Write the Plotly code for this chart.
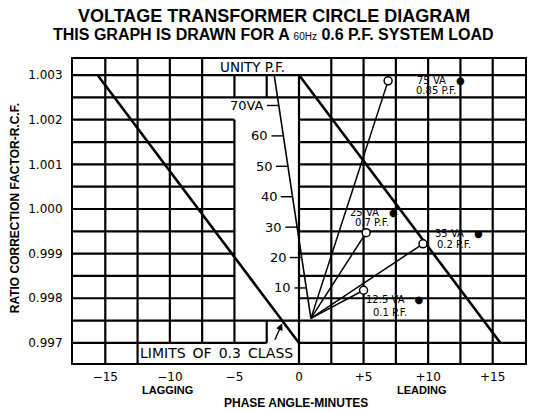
import plotly.graph_objects as go

# ---------------- data ----------------
x_tick_vals = [-15, -10, -5, 0, 5, 10, 15]
x_tick_text = ["−15", "−10", "−5", "0", "+5", "+10", "+15"]
y_tick_vals = [0.997, 0.998, 0.999, 1.000, 1.001, 1.002, 1.003]
y_tick_text = ["0.997", "0.998", "0.999", "1.000", "1.001", "1.002", "1.003"]

# 0.3 accuracy class limit lines (phase angle, RCF)
lag_limit_pa = [-15.6, 0.0]
lag_limit_rcf = [1.003, 0.997]
lead_limit_pa = [0.0, 15.6]
lead_limit_rcf = [1.003, 0.997]

# zero-burden point and unity power factor line
zero_pa, zero_rcf = 0.92, 0.99755
unity_end_pa, unity_end_rcf, unity_end_va = -1.92, 1.003, 80
va_ticks = [10, 20, 30, 40, 50, 60, 70]
va_tick_text = ["10", "20", "30", "40", "50", "60", "70VA"]

# burden points
burden_va = ["75", "25", "35", "12.5"]
burden_pf = ["0.85", "0.7", "0.2", "0.1"]
burden_pa = [6.9, 5.2, 9.6, 5.0]
burden_rcf = [1.00287, 0.99947, 0.99922, 0.99818]

# grid
grid_x = [-15 + 2.5 * i for i in range(13)]
grid_y = [round(0.997 + 0.0005 * i, 4) for i in range(13)]
X0, X1 = -17.5, 17.5
Y0, Y1 = 0.99655, 1.00336

# ---------------- figure ----------------
fig = go.Figure()

gx, gy = [], []
def seg(xa, ya, xb, yb):
    gx.extend([xa, xb, None]); gy.extend([ya, yb, None])

for x in grid_x:
    lo, hi = Y0, Y1
    if -12.5 < x < 0:
        lo = 0.997
    if -7.5 < x < 2.5:
        hi = 1.003
    if x == -2.5:
        seg(x, lo, x, 0.9975); seg(x, 1.0025, x, hi)
    elif x == -5:
        seg(x, lo, x, 1.002); seg(x, 1.0025, x, hi)
    else:
        seg(x, lo, x, hi)
for y in grid_y:
    if y == 0.997:
        seg(X0, y, -2.5, y); seg(0, y, X1, y)
    elif 0.9975 < y < 1.0025:
        seg(X0, y, -5, y); seg(0, y, X1, y)
    else:
        seg(X0, y, X1, y)

fig.add_trace(go.Scatter(x=gx, y=gy, mode="lines",
                         line=dict(color="black", width=2.2), hoverinfo="skip"))

# limit lines
for px_, py_ in [(lag_limit_pa, lag_limit_rcf), (lead_limit_pa, lead_limit_rcf)]:
    fig.add_trace(go.Scatter(x=px_, y=py_, mode="lines",
                             line=dict(color="black", width=2.6), hoverinfo="skip"))

# unity PF line
fig.add_trace(go.Scatter(x=[zero_pa, unity_end_pa], y=[zero_rcf, unity_end_rcf],
                         mode="lines", line=dict(color="black", width=1.6), hoverinfo="skip"))

# VA tick dashes
dash_len = 0.92
tx, ty = [], []
va_pts = []
for v in va_ticks:
    f = v / unity_end_va
    xv = zero_pa + (unity_end_pa - zero_pa) * f
    yv = zero_rcf + (unity_end_rcf - zero_rcf) * f
    va_pts.append((xv, yv))
    tx.extend([xv - dash_len, xv, None]); ty.extend([yv, yv, None])
fig.add_trace(go.Scatter(x=tx, y=ty, mode="lines",
                         line=dict(color="black", width=1.4), hoverinfo="skip"))

# burden lines
bx, by = [], []
for pa, rcf in zip(burden_pa, burden_rcf):
    bx.extend([zero_pa, pa, None]); by.extend([zero_rcf, rcf, None])
fig.add_trace(go.Scatter(x=bx, y=by, mode="lines",
                         line=dict(color="black", width=1.5), hoverinfo="skip"))
fig.add_trace(go.Scatter(x=burden_pa, y=burden_rcf, mode="markers",
                         marker=dict(symbol="circle", size=8, color="white",
                                     line=dict(color="black", width=1.5)),
                         hoverinfo="skip"))

FONT = "DejaVu Sans"
BOLD = "Liberation Sans"
EM = "\u2003"
EN = "\u2002"

# VA tick labels
for (xv, yv), t in zip(va_pts, va_tick_text):
    fig.add_annotation(x=xv - dash_len, y=yv, text=t, showarrow=False,
                       xanchor="right", yanchor="middle", xshift=-1,
                       font=dict(family=FONT, size=13, color="black"))

# burden labels
offsets = [
    ((27, 0), (26, -10)),
    ((-18, 20), (-13, 10)),
    ((10, 10), (12, -1)),
    ((0, -9), (7, -22)),
]
for va, pf, pa, rcf, (o1, o2) in zip(burden_va, burden_pf, burden_pa, burden_rcf, offsets):
    fig.add_annotation(x=pa, y=rcf, text=f"{va} VA{EM}●", showarrow=False,
                       xanchor="left", yanchor="middle", xshift=o1[0], yshift=o1[1],
                       font=dict(family=FONT, size=10, color="black"))
    fig.add_annotation(x=pa, y=rcf, text=f"{pf} P.F.", showarrow=False,
                       xanchor="left", yanchor="middle", xshift=o2[0], yshift=o2[1],
                       font=dict(family=FONT, size=10, color="black"))

# UNITY P.F.
fig.add_annotation(x=-3.6, y=1.00318, text="UNITY P.F.", showarrow=False,
                   xanchor="center", yanchor="middle",
                   font=dict(family=FONT, size=13.5, color="black"))
# LIMITS label
fig.add_annotation(x=-12.45, y=0.99678, text=EN.join(["LIMITS", "OF", "0.3", "CLASS"]),
                   showarrow=False, xanchor="left", yanchor="middle",
                   font=dict(family=FONT, size=14, color="black"))
fig.add_annotation(x=-1.3, y=0.99744, ax=-8, ay=18, text="", showarrow=True,
                   arrowhead=2, arrowsize=1, arrowwidth=1.4, arrowcolor="black")

# titles
fig.add_annotation(xref="paper", yref="paper", x=(275 - 73) / 454, y=1 + (59 - 16) / 304,
                   text="<b>VOLTAGE TRANSFORMER CIRCLE DIAGRAM</b>", showarrow=False,
                   xanchor="center", yanchor="middle",
                   font=dict(family=BOLD, size=18, color="black"))
fig.add_annotation(xref="paper", yref="paper", x=(274 - 73) / 454, y=1 + (59 - 35) / 304,
                   text="<b>THIS GRAPH IS DRAWN FOR A </b><span style='font-size:10px'>60Hz</span><b> 0.6 P.F. SYSTEM LOAD</b>",
                   showarrow=False, xanchor="center", yanchor="middle",
                   font=dict(family=BOLD, size=16, color="black"))
fig.add_annotation(xref="paper", yref="paper", x=(15 - 73) / 454, y=1 - (208 - 59) / 304,
                   text="<b>RATIO CORRECTION FACTOR-R.C.F.</b>", textangle=-90,
                   showarrow=False, xanchor="center", yanchor="middle",
                   font=dict(family=BOLD, size=12, color="black"))
fig.add_annotation(xref="x", yref="paper", x=-10.2, y=(363 - 390) / 304,
                   text="<b>LAGGING</b>", showarrow=False, xanchor="center", yanchor="middle",
                   font=dict(family=BOLD, size=11, color="black"))
fig.add_annotation(xref="x", yref="paper", x=9.5, y=(363 - 390) / 304,
                   text="<b>LEADING</b>", showarrow=False, xanchor="center", yanchor="middle",
                   font=dict(family=BOLD, size=11, color="black"))
fig.add_annotation(xref="x", yref="paper", x=-0.2, y=(363 - 403) / 304,
                   text="<b>PHASE ANGLE-MINUTES</b>", showarrow=False, xanchor="center",
                   yanchor="middle", font=dict(family=BOLD, size=12, color="black"))

fig.update_layout(
    width=538, height=411,
    margin=dict(l=73, r=11, t=59, b=48),
    paper_bgcolor="white", plot_bgcolor="white",
    showlegend=False,
    xaxis=dict(range=[X0, X1], showgrid=False, zeroline=False, showline=True, mirror=True,
               linecolor="black", linewidth=2, tickmode="array", tickvals=x_tick_vals,
               ticktext=x_tick_text, ticks="outside", ticklen=2, tickcolor="rgba(0,0,0,0)",
               tickfont=dict(family=FONT, size=12, color="black"), fixedrange=True),
    yaxis=dict(range=[Y0, Y1], showgrid=False, zeroline=False, showline=True, mirror=True,
               linecolor="black", linewidth=2, tickmode="array", tickvals=y_tick_vals,
               ticktext=y_tick_text, ticks="outside", ticklen=6, tickcolor="rgba(0,0,0,0)",
               tickfont=dict(family=FONT, size=12, color="black"), fixedrange=True),
)

fig.write_html("out.html", config={"displayModeBar": False},
               post_script="document.body.style.margin='0';")
